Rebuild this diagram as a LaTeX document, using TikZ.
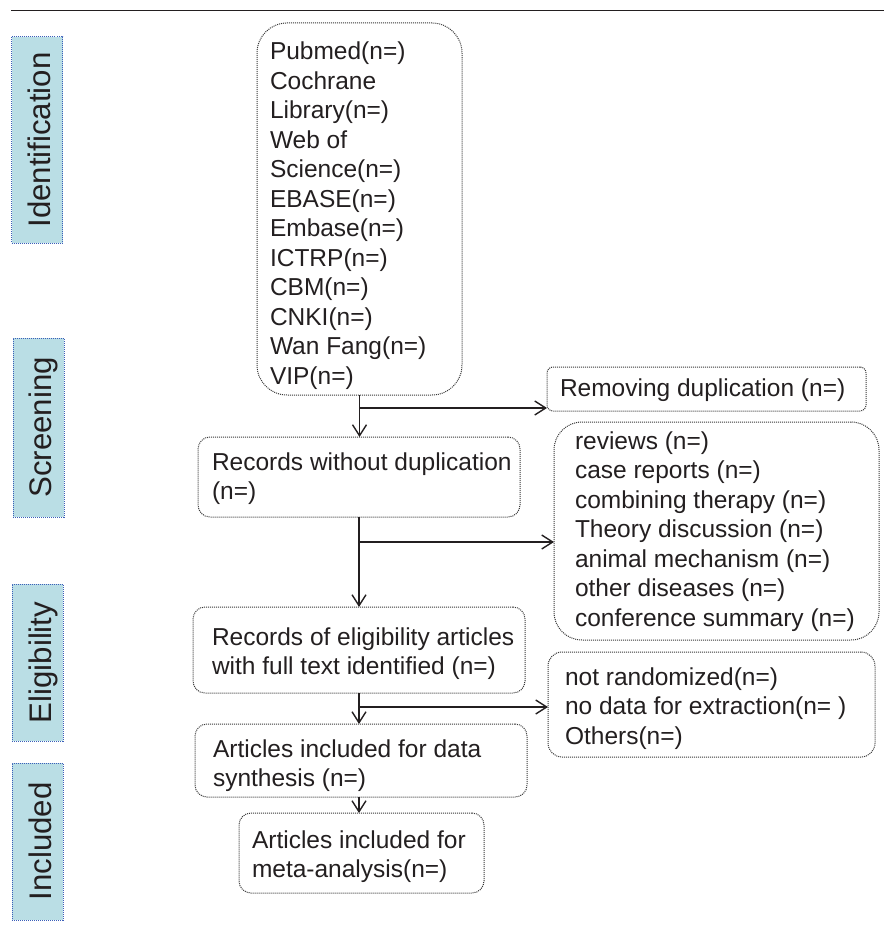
\documentclass[tikz,border=0pt]{standalone}
\usepackage{fontspec}
\setmainfont{Liberation Sans}
\usetikzlibrary{arrows.meta,calc}
\definecolor{labfill}{RGB}{186,222,229}
\definecolor{labdraw}{RGB}{60,95,185}
\definecolor{boxdraw}{RGB}{55,55,55}
\definecolor{ink}{RGB}{35,31,32}
\newcommand{\bodyfs}{\fontsize{24.5}{29.5}\selectfont}
\newcommand{\labfs}{\fontsize{31.2}{36}\selectfont}
\begin{document}
\begin{tikzpicture}[x=1pt,y=-1pt,
  frame/.style={draw=boxdraw, line width=1pt, dash pattern=on 1pt off 1pt,
    inner sep=0pt, outer sep=0pt, rounded corners=12pt},
  txt/.style={anchor=north west, align=left, inner sep=0pt, outer sep=0pt,
    font=\bodyfs, text=ink},
  lab/.style={draw=labdraw, fill=labfill, line width=1pt,
    dash pattern=on 1pt off 1pt, inner sep=0pt, outer sep=0pt,
    minimum width=51pt},
  labtxt/.style={rotate=90, anchor=base, inner sep=0pt, font=\labfs, text=ink},
  conn/.style={draw=ink, line width=1.4pt, -{Straight Barb[length=11pt,width=14pt]}},
  rulestyle/.style={draw=ink, line width=1.5pt}
]
\useasboundingbox (0,0) rectangle (884,931);

% top rule
\coordinate (r1) at (11,10.7);
\coordinate (r2) at (884,10.7);
\draw[rulestyle] (r1) -- (r2);

% stage labels
\node[lab, minimum height=206pt] (Lid) at (37,140) {};
\node[labtxt] (Lidt) at (50.5,140) {Identification};
\node[lab, minimum height=179pt] (Lsc) at (38.5,427.5) {};
\node[labtxt] (Lsct) at (51.5,427.5) {Screening};
\node[lab, minimum height=157pt] (Lel) at (37.5,662.5) {};
\node[labtxt] (Lelt) at (51,662.5) {Eligibility};
\node[lab, minimum height=157pt] (Lin) at (37.5,841.5) {};
\node[labtxt] (Lint) at (51,841.5) {Included};

% boxes
\node[frame, rounded corners=30pt, minimum width=205pt, minimum height=372pt] (src) at (359.5,209) {};
\node[txt] (srct) at (270,38.85) {\strut Pubmed(n=)\\ \strut Cochrane\\ \strut Library(n=)\\ \strut Web of\\ \strut Science(n=)\\ \strut EBASE(n=)\\ \strut Embase(n=)\\ \strut ICTRP(n=)\\ \strut CBM(n=)\\ \strut CNKI(n=)\\ \strut Wan Fang(n=)\\ \strut VIP(n=)};

\node[frame, rounded corners=6pt, minimum width=319pt, minimum height=44pt] (rmdup) at (706.5,389) {};
\node[txt] (rmdupt) at (560,375.35) {\strut Removing duplication (n=)};

\node[frame, minimum width=322pt, minimum height=80pt] (rwd) at (359,477) {};
\node[txt] (rwdt) at (212,449.35) {\strut Records without duplication\\ \strut (n=)};

\node[frame, rounded corners=28pt, minimum width=325pt, minimum height=218pt] (excl) at (716.5,531) {};
\node[txt] (exclt) at (575,428.35) {\strut reviews (n=)\\ \strut case reports (n=)\\ \strut combining therapy (n=)\\ \strut Theory discussion (n=)\\ \strut animal mechanism (n=)\\ \strut other diseases (n=)\\ \strut conference summary (n=)};

\node[frame, minimum width=332pt, minimum height=86pt] (elig) at (359,650) {};
\node[txt] (eligt) at (212,624.35) {\strut Records of eligibility articles\\ \strut with full text identified (n=)};

\node[frame, rounded corners=14pt, minimum width=327pt, minimum height=105pt] (nr) at (711.5,704.5) {};
\node[txt] (nrt) at (565,664.35) {\strut not randomized(n=)\\ \strut no data for extraction(n=~)\\ \strut Others(n=)};

\node[frame, minimum width=332pt, minimum height=73pt] (syn) at (361,760.5) {};
\node[txt] (synt) at (213,736.35) {\strut Articles included for data\\ \strut synthesis (n=)};

\node[frame, minimum width=245pt, minimum height=80pt] (meta) at (361.5,853) {};
\node[txt] (metat) at (252,827.35) {\strut Articles included for\\ \strut meta-analysis(n=)};

% connectors
\draw[conn] (src.south) -- (src.south |- rwd.north);
\coordinate (b1) at ($(src.south)+(0,13)$);
\draw[conn] (b1) -- (b1 -| rmdup.west);

\draw[conn] (rwd.south) -- (rwd.south |- elig.north);
\coordinate (b2) at ($(rwd.south)+(0,25)$);
\draw[conn] (b2) -- (b2 -| excl.west);

\draw[conn] (elig.south) -- (elig.south |- syn.north);
\coordinate (b3) at ($(elig.south)+(0,14)$);
\draw[conn] (b3) -- (b3 -| nr.west);

\draw[conn] (syn.south -| elig.south) -- (elig.south |- meta.north);
\end{tikzpicture}
\end{document}
